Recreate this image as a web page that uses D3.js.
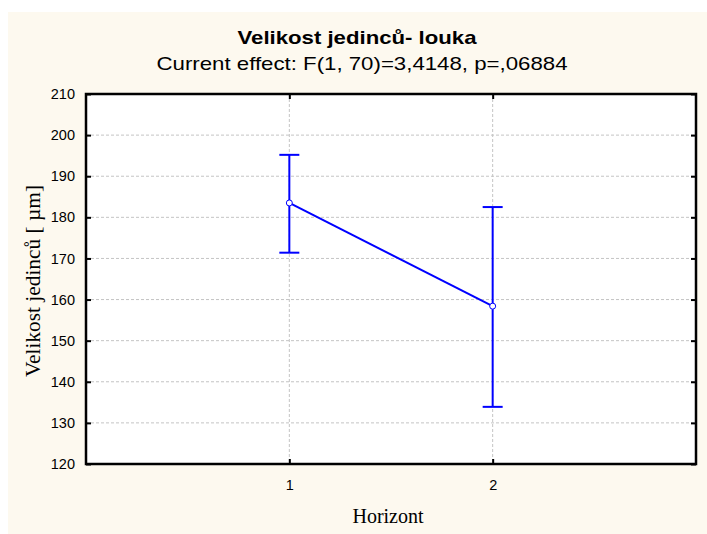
<!DOCTYPE html>
<html>
<head>
<meta charset="utf-8">
<script src="https://cdn.jsdelivr.net/npm/d3@7"></script>
<style>
html,body{margin:0;padding:0;background:#fff;}
svg{display:block;}
</style>
</head>
<body>
<svg id="chart" width="707" height="534"></svg>
<script>
const categories = ["1", "2"];
const means = [183.5, 158.4];
const upper = [195.2, 182.5];
const lower = [171.4, 133.9];
const yTicks = [120, 130, 140, 150, 160, 170, 180, 190, 200, 210];
const titleText = "Velikost jedinců- louka";
const subtitleText = "Current effect: F(1, 70)=3,4148, p=,06884";
const xLabel = "Horizont";
const yLabel = "Velikost jedinců [ µm]";

const svg = d3.select("#chart");
const W = 707, H = 534;
const m = {left: 86, right: 696, top: 94, bottom: 464};

svg.append("rect").attr("x", 8).attr("y", 12).attr("width", W - 8).attr("height", H - 12).attr("fill", "#fdf9ef");
svg.append("rect").attr("x", m.left).attr("y", m.top).attr("width", m.right - m.left).attr("height", m.bottom - m.top).attr("fill", "#ffffff");

const x = d3.scalePoint().domain(categories).range([m.left, m.right]).padding(1);
const y = d3.scaleLinear().domain([120, 210]).range([m.bottom, m.top]);

// grid
const grid = svg.append("g");
grid.selectAll("line.h").data(yTicks.slice(1, -1)).join("line")
  .attr("x1", m.left).attr("x2", m.right)
  .attr("y1", d => y(d)).attr("y2", d => y(d))
  .attr("stroke", "#c4c4c4").attr("stroke-width", 1).attr("stroke-dasharray", "3,2");
grid.selectAll("line.v").data(categories).join("line")
  .attr("x1", d => x(d)).attr("x2", d => x(d))
  .attr("y1", m.top).attr("y2", m.bottom)
  .attr("stroke", "#c4c4c4").attr("stroke-width", 1).attr("stroke-dasharray", "3,2");

// axes
const yAxis = d3.axisLeft(y).tickValues(yTicks).tickSize(-5).tickPadding(11);
const gy = svg.append("g").attr("transform", `translate(${m.left},0)`).call(yAxis);
gy.select(".domain").remove();
gy.selectAll("text").attr("font-family", "Liberation Sans, Arial, sans-serif").attr("font-size", 14.5).attr("fill", "#000");
gy.selectAll("line").attr("stroke", "#000").attr("stroke-width", 2);

const yAxisR = d3.axisRight(y).tickValues(yTicks).tickSize(-5).tickFormat("");
const gyr = svg.append("g").attr("transform", `translate(${m.right},0)`).call(yAxisR);
gyr.select(".domain").remove();
gyr.selectAll("line").attr("stroke", "#000").attr("stroke-width", 2);

const xAxis = d3.axisBottom(x).tickSize(-5).tickPadding(16);
const gx = svg.append("g").attr("transform", `translate(0,${m.bottom})`).call(xAxis);
gx.select(".domain").remove();
gx.selectAll("text").attr("font-family", "Liberation Sans, Arial, sans-serif").attr("font-size", 14.5).attr("fill", "#000");
gx.selectAll("line").attr("stroke", "#000").attr("stroke-width", 2);

const xAxisT = d3.axisTop(x).tickSize(-5).tickFormat("");
const gxt = svg.append("g").attr("transform", `translate(0,${m.top})`).call(xAxisT);
gxt.select(".domain").remove();
gxt.selectAll("line").attr("stroke", "#000").attr("stroke-width", 2);

// frame
svg.append("rect").attr("x", m.left).attr("y", m.top).attr("width", m.right - m.left).attr("height", m.bottom - m.top)
  .attr("fill", "none").attr("stroke", "#000").attr("stroke-width", 2.5);

// data
const data = categories.map((c, i) => ({c, mean: means[i], hi: upper[i], lo: lower[i]}));
const blue = "#0000ff";
const eb = svg.append("g");
eb.selectAll("line.v").data(data).join("line")
  .attr("x1", d => x(d.c)).attr("x2", d => x(d.c))
  .attr("y1", d => y(d.hi)).attr("y2", d => y(d.lo))
  .attr("stroke", blue).attr("stroke-width", 2);
eb.selectAll("line.t").data(data).join("line")
  .attr("x1", d => x(d.c) - 10).attr("x2", d => x(d.c) + 10)
  .attr("y1", d => y(d.hi)).attr("y2", d => y(d.hi))
  .attr("stroke", blue).attr("stroke-width", 2);
eb.selectAll("line.b").data(data).join("line")
  .attr("x1", d => x(d.c) - 10).attr("x2", d => x(d.c) + 10)
  .attr("y1", d => y(d.lo)).attr("y2", d => y(d.lo))
  .attr("stroke", blue).attr("stroke-width", 2);

svg.append("path").datum(data)
  .attr("d", d3.line().x(d => x(d.c)).y(d => y(d.mean)))
  .attr("fill", "none").attr("stroke", blue).attr("stroke-width", 2);

svg.selectAll("circle.pt").data(data).join("circle")
  .attr("cx", d => x(d.c)).attr("cy", d => y(d.mean)).attr("r", 3)
  .attr("fill", "#fff").attr("stroke", blue).attr("stroke-width", 1);

// titles
svg.append("text").attr("x", 357).attr("y", 44).attr("text-anchor", "middle")
  .attr("font-family", "Liberation Sans, Arial, sans-serif").attr("font-weight", "bold").attr("font-size", 19)
  .attr("textLength", 239).attr("lengthAdjust", "spacingAndGlyphs")
  .text(titleText);
svg.append("text").attr("x", 362).attr("y", 70).attr("text-anchor", "middle")
  .attr("font-family", "Liberation Sans, Arial, sans-serif").attr("font-size", 19)
  .attr("textLength", 411).attr("lengthAdjust", "spacingAndGlyphs")
  .text(subtitleText);

svg.append("text").attr("x", 388).attr("y", 523).attr("text-anchor", "middle")
  .attr("font-family", "Liberation Serif, Times New Roman, serif").attr("font-size", 20)
  .text(xLabel);
svg.append("text").attr("transform", "translate(40,281) rotate(-90)").attr("text-anchor", "middle")
  .attr("font-family", "Liberation Serif, Times New Roman, serif").attr("font-size", 20)
  .attr("textLength", 192).attr("lengthAdjust", "spacingAndGlyphs")
  .text(yLabel);
</script>
</body>
</html>
